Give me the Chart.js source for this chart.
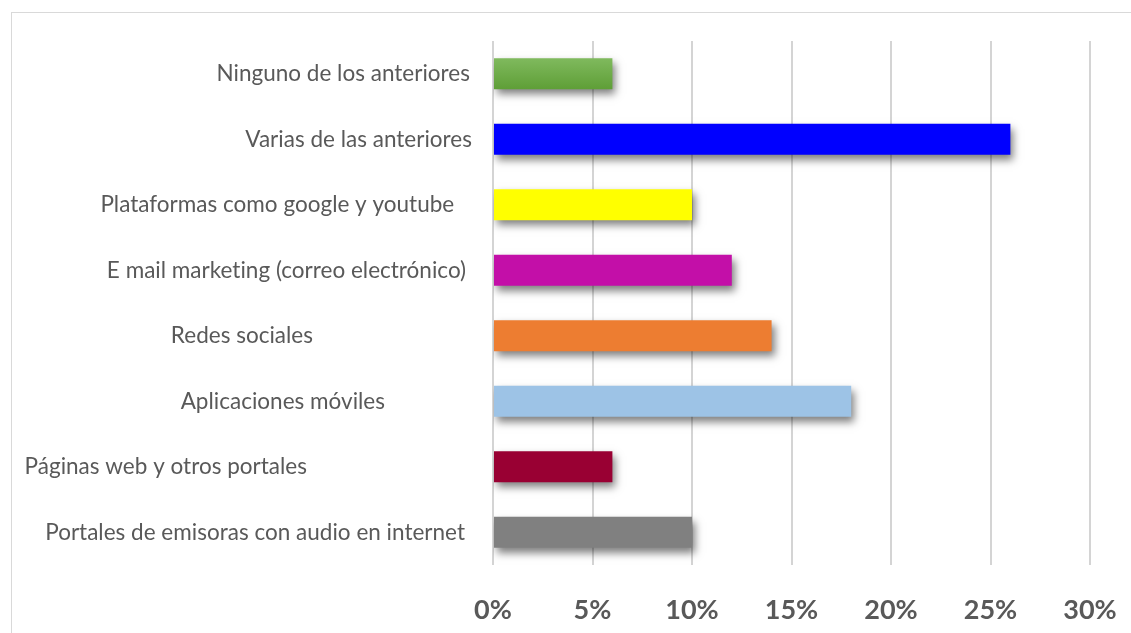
<!DOCTYPE html>
<html>
<head>
<meta charset="utf-8">
<script src="https://cdn.jsdelivr.net/npm/chart.js@4.4.1/dist/chart.umd.min.js"></script>
<style>
  html, body { margin: 0; padding: 0; background: #fff; }
  #wrap { position: relative; width: 1131px; height: 633px; overflow: hidden; }
  #frame { position: absolute; left: 11px; top: 12px; width: 1140px; height: 640px; border: 1px solid #d9d9d9; }
  canvas { position: absolute; left: 0; top: 0; }
</style>
</head>
<body>
<div id="wrap">
  <div id="frame"></div>
  <canvas id="chart" width="1131" height="633"></canvas>
</div>
<script>
const categories = [
  "Ninguno de los anteriores",
  "Varias de las anteriores",
  "Plataformas como google y youtube ",
  "E mail marketing (correo electrónico)",
  "Redes sociales",
  "Aplicaciones móviles",
  "Páginas web y otros portales",
  "Portales de emisoras con audio en internet"
];
const values = [6, 26, 10, 12, 14, 18, 6, 10];
const tickValues = [0, 5, 10, 15, 20, 25, 30];

const barColors = ["#70ad47", "#0000ff", "#ffff00", "#c30fa8", "#ed7d31", "#9dc3e6", "#990033", "#808080"];

// space between the end of each category label and the value axis
const labelGap = [23, 21, 33, 27, 180, 108, 186, 28];

const ctx = document.getElementById("chart");

function barFill(context) {
  const chart = context.chart;
  const i = context.dataIndex;
  if (i !== 0 || !chart.chartArea) return barColors[i];
  const y = chart.scales.y.getPixelForValue(i);
  const g = chart.ctx.createLinearGradient(0, y - 16, 0, y + 16);
  g.addColorStop(0, "#80ba5e");
  g.addColorStop(1, "#5e9e36");
  return g;
}

const barShadow = {
  id: "barShadow",
  beforeDatasetsDraw(chart) {
    const c = chart.ctx;
    c.save();
    c.shadowColor = "rgba(0,0,0,0.5)";
    c.shadowBlur = 8;
    c.shadowOffsetX = 3;
    c.shadowOffsetY = 5;
  },
  afterDatasetsDraw(chart) {
    chart.ctx.restore();
  }
};

const categoryLabels = {
  id: "categoryLabels",
  afterDraw(chart) {
    const c = chart.ctx;
    const y = chart.scales.y;
    c.save();
    c.font = "22.5px Lato";
    c.letterSpacing = "0.01px"; // keeps "ti" from joining into a ligature
    c.fillStyle = "#595959";
    c.textAlign = "right";
    c.textBaseline = "middle";
    categories.forEach((label, i) => {
      c.fillText(label, chart.chartArea.left - labelGap[i], y.getPixelForValue(i));
    });
    c.restore();
  }
};

new Chart(ctx, {
  type: "bar",
  data: {
    labels: categories,
    datasets: [{
      data: values,
      backgroundColor: barFill,
      borderWidth: 0,
      barPercentage: 0.47,
      categoryPercentage: 1
    }]
  },
  options: {
    indexAxis: "y",
    responsive: false,
    animation: false,
    layout: { padding: { top: 41, right: 41, left: 0, bottom: 0 } },
    plugins: {
      legend: { display: false },
      tooltip: { enabled: false }
    },
    scales: {
      x: {
        min: 0,
        max: 30,
        afterBuildTicks(scale) {
          scale.ticks = tickValues.map(v => ({ value: v }));
        },
        afterFit(scale) {
          scale.height = 68;
          scale.paddingLeft = 0;
          scale.paddingRight = 0;
        },
        grid: { color: "#d4d4d4", lineWidth: 2, drawTicks: false },
        border: { display: false },
        ticks: {
          padding: 29,
          color: "#595959",
          font: { family: "Lato", size: 27, weight: "bold" },
          callback: v => v + "%"
        }
      },
      y: {
        afterFit(scale) { scale.width = 493; },
        grid: { display: false },
        border: { display: false },
        ticks: { display: false }
      }
    }
  },
  plugins: [barShadow, categoryLabels]
});
</script>
</body>
</html>
